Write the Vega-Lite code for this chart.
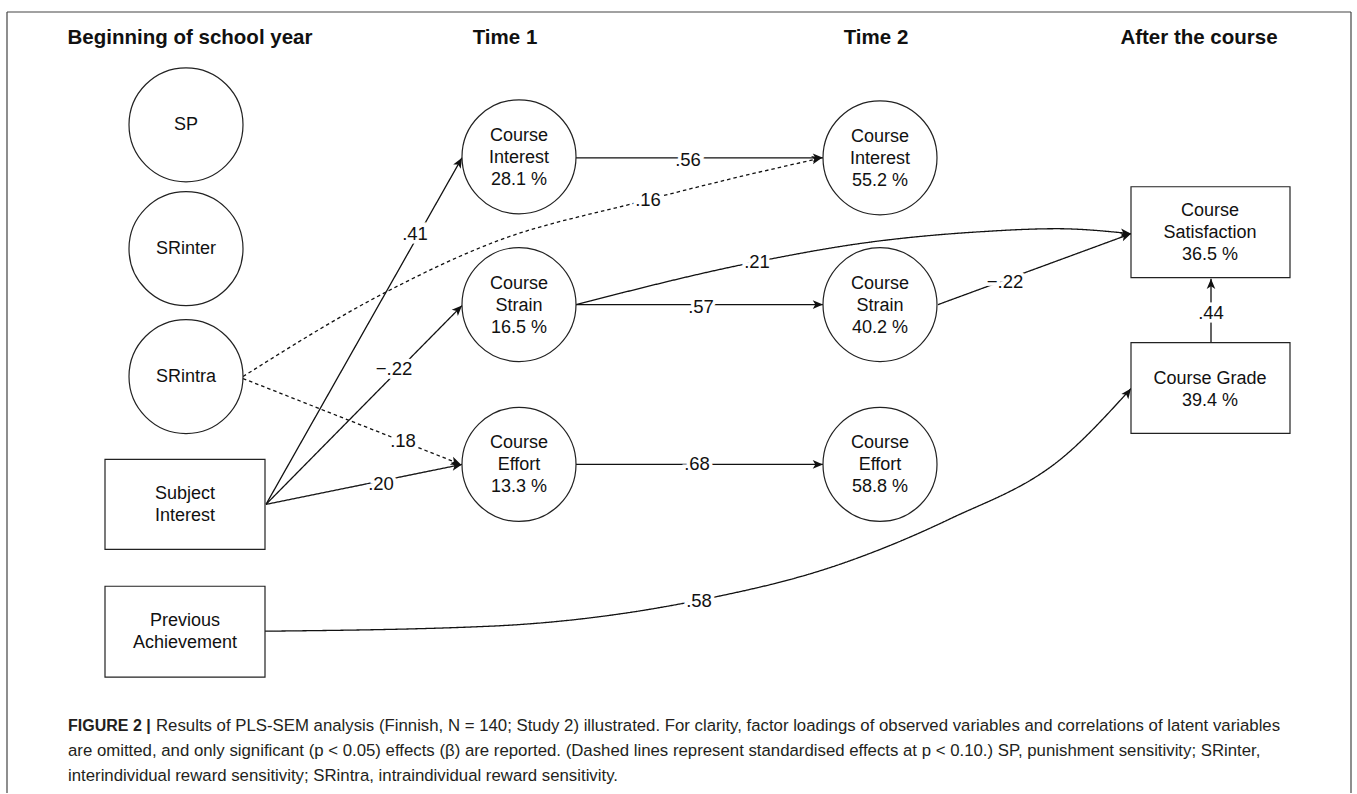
{
  "$schema": "https://vega.github.io/schema/vega-lite/v6.json",
  "width": 1357,
  "height": 794,
  "padding": 0,
  "autosize": {"type": "fit", "contains": "padding"},
  "background": "white",
  "config": {"view": {"stroke": null}, "font": "Liberation Sans"},
  "datasets": {
    "frame": [
      {"x": 7, "y": 12, "x2": 1351, "y2": 12},
      {"x": 7, "y": 12, "x2": 7, "y2": 794},
      {"x": 1351, "y": 12, "x2": 1351, "y2": 794}
    ],
    "edges": [
      {"edge": "e1", "seq": 1, "x": 266, "y": 505, "style": "solid"},
      {"edge": "e1", "seq": 2, "x": 462, "y": 158, "style": "solid"},
      {"edge": "e2", "seq": 1, "x": 266, "y": 505, "style": "solid"},
      {"edge": "e2", "seq": 2, "x": 462, "y": 306, "style": "solid"},
      {"edge": "e3", "seq": 1, "x": 266, "y": 505, "style": "solid"},
      {"edge": "e3", "seq": 2, "x": 462, "y": 465, "style": "solid"},
      {"edge": "e4", "seq": 1, "x": 243, "y": 377, "style": "dashed"},
      {"edge": "e4", "seq": 2, "x": 383, "y": 294, "style": "dashed"},
      {"edge": "e4", "seq": 3, "x": 498, "y": 241, "style": "dashed"},
      {"edge": "e4", "seq": 4, "x": 636, "y": 203, "style": "dashed"},
      {"edge": "e4", "seq": 5, "x": 727, "y": 180, "style": "dashed"},
      {"edge": "e4", "seq": 6, "x": 822, "y": 158, "style": "dashed"},
      {"edge": "e5", "seq": 1, "x": 243, "y": 379, "style": "dashed"},
      {"edge": "e5", "seq": 2, "x": 461, "y": 465, "style": "dashed"},
      {"edge": "e6", "seq": 1, "x": 576, "y": 158, "style": "solid"},
      {"edge": "e6", "seq": 2, "x": 823, "y": 158, "style": "solid"},
      {"edge": "e7", "seq": 1, "x": 576, "y": 305, "style": "solid"},
      {"edge": "e7", "seq": 2, "x": 823, "y": 305, "style": "solid"},
      {"edge": "e8", "seq": 1, "x": 576, "y": 465, "style": "solid"},
      {"edge": "e8", "seq": 2, "x": 823, "y": 465, "style": "solid"},
      {"edge": "e9", "seq": 1, "x": 576, "y": 305, "style": "solid"},
      {"edge": "e9", "seq": 2, "x": 757, "y": 262, "style": "solid"},
      {"edge": "e9", "seq": 3, "x": 866, "y": 243, "style": "solid"},
      {"edge": "e9", "seq": 4, "x": 981, "y": 232, "style": "solid"},
      {"edge": "e9", "seq": 5, "x": 1057, "y": 229, "style": "solid"},
      {"edge": "e9", "seq": 6, "x": 1131, "y": 234, "style": "solid"},
      {"edge": "e10", "seq": 1, "x": 938, "y": 305, "style": "solid"},
      {"edge": "e10", "seq": 2, "x": 1131, "y": 234, "style": "solid"},
      {"edge": "e11", "seq": 1, "x": 1211, "y": 343, "style": "solid"},
      {"edge": "e11", "seq": 2, "x": 1211, "y": 279, "style": "solid"},
      {"edge": "e12", "seq": 1, "x": 265, "y": 632, "style": "solid"},
      {"edge": "e12", "seq": 2, "x": 490, "y": 627, "style": "solid"},
      {"edge": "e12", "seq": 3, "x": 699, "y": 601, "style": "solid"},
      {"edge": "e12", "seq": 4, "x": 834, "y": 567, "style": "solid"},
      {"edge": "e12", "seq": 5, "x": 949, "y": 520, "style": "solid"},
      {"edge": "e12", "seq": 6, "x": 1064, "y": 457, "style": "solid"},
      {"edge": "e12", "seq": 7, "x": 1131, "y": 389, "style": "solid"}
    ],
    "arrows": [
      {"x": 462, "y": 158, "angle": 299.6},
      {"x": 462, "y": 306, "angle": 314.7},
      {"x": 462, "y": 465, "angle": 348.5},
      {"x": 822, "y": 158, "angle": 347},
      {"x": 461, "y": 465, "angle": 21.5},
      {"x": 823, "y": 158, "angle": 0},
      {"x": 823, "y": 305, "angle": 0},
      {"x": 823, "y": 465, "angle": 0},
      {"x": 1131, "y": 234, "angle": 5},
      {"x": 1131, "y": 234, "angle": 339.7},
      {"x": 1211, "y": 279, "angle": 270},
      {"x": 1131, "y": 389, "angle": 307}
    ],
    "labels": [
      {"x": 415, "y": 234, "text": ".41"},
      {"x": 394, "y": 369, "text": "−.22"},
      {"x": 381, "y": 485, "text": ".20"},
      {"x": 648, "y": 200, "text": ".16"},
      {"x": 403, "y": 442, "text": ".18"},
      {"x": 688, "y": 160, "text": ".56"},
      {"x": 701, "y": 307, "text": ".57"},
      {"x": 697, "y": 465, "text": ".68"},
      {"x": 757, "y": 262, "text": ".21"},
      {"x": 1005, "y": 282, "text": "−.22"},
      {"x": 1211, "y": 313, "text": ".44"},
      {"x": 699, "y": 602, "text": ".58"}
    ],
    "circles": [
      {"x": 186, "y": 125, "label": "SP"},
      {"x": 186, "y": 249, "label": "SRinter"},
      {"x": 186, "y": 377, "label": "SRintra"},
      {"x": 519, "y": 157, "label": "Course\nInterest\n28.1 %"},
      {"x": 519, "y": 305, "label": "Course\nStrain\n16.5 %"},
      {"x": 519, "y": 465, "label": "Course\nEffort\n13.3 %"},
      {"x": 880, "y": 158, "label": "Course\nInterest\n55.2 %"},
      {"x": 880, "y": 305, "label": "Course\nStrain\n40.2 %"},
      {"x": 880, "y": 465, "label": "Course\nEffort\n58.8 %"}
    ],
    "boxes": [
      {"x": 105, "x2": 265, "y": 460, "y2": 550},
      {"x": 105, "x2": 265, "y": 587, "y2": 678},
      {"x": 1131, "x2": 1290, "y": 187, "y2": 278},
      {"x": 1131, "x2": 1290, "y": 343, "y2": 434}
    ],
    "boxtext": [
      {"x": 185, "y": 506, "label": "Subject\nInterest", "lines": 2},
      {"x": 185, "y": 633, "label": "Previous\nAchievement", "lines": 2},
      {"x": 1210, "y": 233, "label": "Course\nSatisfaction\n36.5 %", "lines": 3},
      {"x": 1210, "y": 390, "label": "Course Grade\n39.4 %", "lines": 2}
    ],
    "titles": [
      {"x": 190, "y": 38, "text": "Beginning of school year"},
      {"x": 505, "y": 38, "text": "Time 1"},
      {"x": 876, "y": 38, "text": "Time 2"},
      {"x": 1199, "y": 38, "text": "After the course"}
    ],
    "caption": [
      {"x": 156, "y": 727, "text": "Results of PLS-SEM analysis (Finnish, N = 140; Study 2) illustrated. For clarity, factor loadings of observed variables and correlations of latent variables"},
      {"x": 68, "y": 752, "text": "are omitted, and only significant (p < 0.05) effects (β) are reported. (Dashed lines represent standardised effects at p < 0.10.) SP, punishment sensitivity; SRinter,"},
      {"x": 68, "y": 777, "text": "interindividual reward sensitivity; SRintra, intraindividual reward sensitivity."}
    ],
    "captionhead": [
      {"x": 68, "y": 727, "text": "FIGURE 2 |"}
    ]
  },
  "encoding": {
    "x": {"field": "x", "type": "quantitative", "scale": {"domain": [0, 1357], "nice": false, "zero": false}, "axis": null},
    "y": {"field": "y", "type": "quantitative", "scale": {"domain": [0, 794], "reverse": true, "nice": false, "zero": false}, "axis": null}
  },
  "layer": [
    {
      "data": {"name": "frame"},
      "mark": {"type": "rule", "stroke": "#444", "strokeWidth": 1.2},
      "encoding": {"x2": {"field": "x2"}, "y2": {"field": "y2"}}
    },
    {
      "data": {"name": "edges"},
      "mark": {"type": "line", "interpolate": "monotone", "stroke": "#111", "strokeWidth": 1.3},
      "encoding": {
        "detail": {"field": "edge", "type": "nominal"},
        "order": {"field": "seq", "type": "quantitative"},
        "strokeDash": {"field": "style", "type": "nominal", "scale": {"domain": ["solid", "dashed"], "range": [[1, 0], [3.5, 3]]}, "legend": null}
      }
    },
    {
      "data": {"name": "arrows"},
      "mark": {"type": "point", "shape": "M0,0L-1,-0.42L-0.75,0L-1,0.42Z", "filled": true, "fill": "#111", "stroke": null, "opacity": 1, "size": 420},
      "encoding": {"angle": {"field": "angle", "type": "quantitative", "scale": null}}
    },
    {
      "data": {"name": "labels"},
      "mark": {"type": "text", "fontSize": 18.5, "align": "center", "baseline": "middle", "stroke": "white", "strokeWidth": 7, "fill": "white"},
      "encoding": {"text": {"field": "text"}}
    },
    {
      "data": {"name": "labels"},
      "mark": {"type": "text", "fontSize": 18.5, "align": "center", "baseline": "middle", "fill": "#111"},
      "encoding": {"text": {"field": "text"}}
    },
    {
      "data": {"name": "circles"},
      "mark": {"type": "point", "shape": "circle", "size": 12996, "filled": false, "fill": "white", "fillOpacity": 1, "stroke": "#222", "strokeWidth": 1.2, "opacity": 1}
    },
    {
      "data": {"name": "circles"},
      "transform": [{"filter": "indexof(datum.label, '\\n') < 0"}],
      "mark": {"type": "text", "fontSize": 18, "align": "center", "baseline": "middle", "fill": "#111"},
      "encoding": {"text": {"field": "label"}}
    },
    {
      "data": {"name": "circles"},
      "transform": [{"filter": "indexof(datum.label, '\\n') >= 0"}],
      "mark": {"type": "text", "fontSize": 18, "align": "center", "baseline": "middle", "lineBreak": "\n", "lineHeight": 22, "dy": -21, "fill": "#111"},
      "encoding": {"text": {"field": "label"}}
    },
    {
      "data": {"name": "boxes"},
      "mark": {"type": "rect", "fill": "white", "stroke": "#222", "strokeWidth": 1.2},
      "encoding": {"x2": {"field": "x2"}, "y2": {"field": "y2"}}
    },
    {
      "data": {"name": "boxtext"},
      "transform": [{"filter": "datum.lines == 2"}],
      "mark": {"type": "text", "fontSize": 18, "align": "center", "baseline": "middle", "lineBreak": "\n", "lineHeight": 22, "dy": -11, "fill": "#111"},
      "encoding": {"text": {"field": "label"}}
    },
    {
      "data": {"name": "boxtext"},
      "transform": [{"filter": "datum.lines == 3"}],
      "mark": {"type": "text", "fontSize": 18, "align": "center", "baseline": "middle", "lineBreak": "\n", "lineHeight": 22, "dy": -22, "fill": "#111"},
      "encoding": {"text": {"field": "label"}}
    },
    {
      "data": {"name": "titles"},
      "mark": {"type": "text", "fontSize": 20.5, "fontWeight": "bold", "align": "center", "baseline": "middle", "fill": "#111"},
      "encoding": {"text": {"field": "text"}}
    },
    {
      "data": {"name": "captionhead"},
      "mark": {"type": "text", "fontSize": 16, "fontWeight": "bold", "align": "left", "baseline": "middle", "fill": "#231f20"},
      "encoding": {"text": {"field": "text"}}
    },
    {
      "data": {"name": "caption"},
      "mark": {"type": "text", "fontSize": 16.8, "align": "left", "baseline": "middle", "fill": "#231f20"},
      "encoding": {"text": {"field": "text"}}
    }
  ]
}
